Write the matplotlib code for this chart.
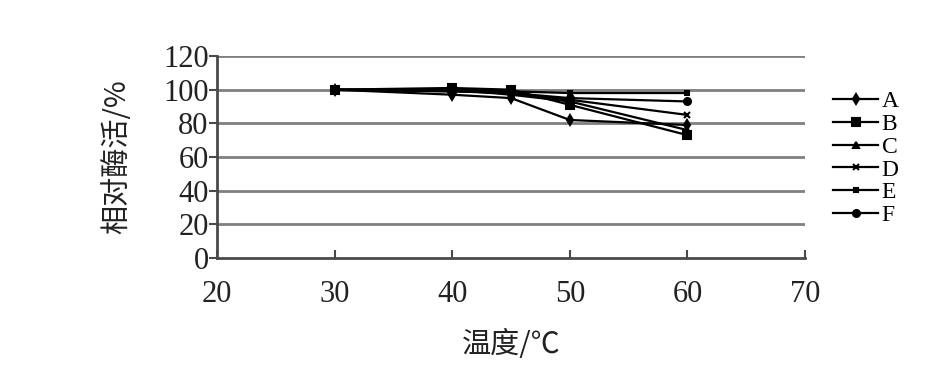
import matplotlib
matplotlib.use("Agg")
import matplotlib.pyplot as plt
from matplotlib.lines import Line2D

temps = [30, 40, 45, 50, 60]
series_names = ["A", "B", "C", "D", "E", "F"]
A = [100, 97, 95, 82, 79]
B = [100, 101, 100, 91, 73]
C = [100, 100, 97, 93, 76]
D = [100, 99, 98, 94, 85]
E = [100, 100, 99, 98, 98]
F = [100, 99, 98, 95, 93]
series = [A, B, C, D, E, F]
markers = ["d", "s", "^", "x", "s", "o"]
msizes = [5, 6, 5, 4, 3.5, 5]
xticks = [20, 30, 40, 50, 60, 70]
yticks = [0, 20, 40, 60, 80, 100, 120]

serif = ["Liberation Serif", "DejaVu Serif"]
cjk = ["Noto Sans CJK SC", "DejaVu Sans"]

fig = plt.figure(figsize=(9.52, 3.66), dpi=100)
ax = fig.add_axes([0.228, 0.295, 0.6176, 0.552])

for vals, m, ms in zip(series, markers, msizes):
    ax.plot(temps, vals, color="black", lw=1.6, marker=m, ms=ms, mew=1.5, clip_on=False)

ax.set_xlim(20, 70)
ax.set_ylim(0, 120)
ax.set_xticks(xticks)
ax.set_yticks(yticks)
for y in yticks[1:]:
    ax.axhline(y, color="#808080", lw=2, zorder=0)
for s in ["top", "right"]:
    ax.spines[s].set_visible(False)
ax.spines["left"].set_color("#4a4a4a")
ax.spines["left"].set_linewidth(2)
ax.spines["bottom"].set_color("#4a4a4a")
ax.spines["bottom"].set_linewidth(2)
ax.tick_params(axis="y", direction="out", length=6, width=1.5, color="#4a4a4a", pad=0)
ax.tick_params(axis="x", direction="in", length=6, width=1.5, color="#4a4a4a", pad=16)
for lab in ax.get_xticklabels() + ax.get_yticklabels():
    lab.set_fontfamily(serif)
    lab.set_fontsize(22)
    lab.set_color("#222222")

ax.set_xlabel("温度/℃", fontfamily=cjk, fontsize=21, labelpad=15, color="#222222")
ax.set_ylabel("相对酶活/%", fontfamily=cjk, fontsize=21, labelpad=22, color="#222222")

handles = [Line2D([0], [0], color="black", lw=1.6, marker=m, ms=ms, mew=1.5)
           for m, ms in zip(markers, msizes)]
leg = fig.legend(handles, series_names, loc="upper left", bbox_to_anchor=(0.863, 0.784),
                 frameon=False, handlelength=1.9, handletextpad=0.15, labelspacing=0.05,
                 borderpad=0, prop={"family": serif, "size": 17})

fig.savefig("out.png", dpi=100)
